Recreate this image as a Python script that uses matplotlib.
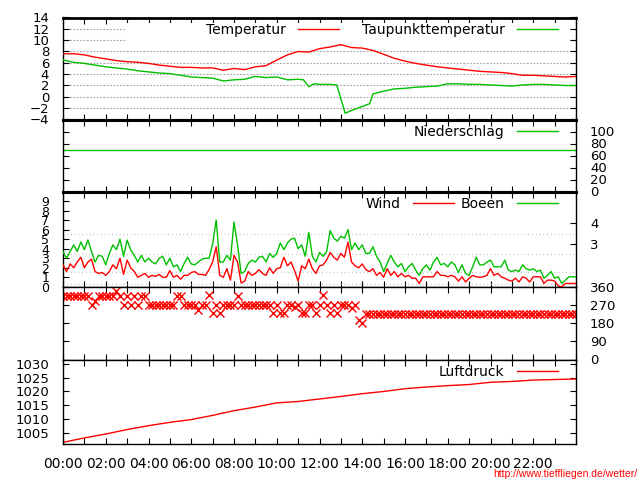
import numpy as np
import matplotlib
matplotlib.use("Agg")
import matplotlib.pyplot as plt
from matplotlib.lines import Line2D
from matplotlib.patches import Rectangle

# ---------------- data ----------------
temp_hours = [0, 0.5, 1, 1.5, 2, 2.5, 3, 3.5, 4, 4.5, 5, 5.5, 6, 6.5, 7, 7.5, 8, 8.5, 9, 9.5,
              10, 10.5, 11, 11.5, 12, 12.5, 13, 13.5, 14, 14.5, 15, 15.5, 16, 16.5, 17, 17.5,
              18, 18.5, 19, 19.5, 20, 20.5, 21, 21.5, 22, 22.5, 23, 23.5, 24]
temperature = [7.6, 7.6, 7.4, 7.0, 6.7, 6.4, 6.2, 6.1, 5.9, 5.6, 5.4, 5.2, 5.2, 5.1, 5.1, 4.7,
               5.0, 4.8, 5.3, 5.5, 6.5, 7.4, 8.0, 7.9, 8.5, 8.8, 9.2, 8.7, 8.6, 8.2, 7.5, 6.8,
               6.3, 5.9, 5.6, 5.3, 5.1, 4.9, 4.7, 4.5, 4.4, 4.3, 4.1, 3.8, 3.8, 3.7, 3.6, 3.5, 3.6]

dew_hours = [0, 0.5, 1, 1.5, 2, 2.5, 3, 3.5, 4, 4.5, 5, 5.5, 6, 6.5, 7, 7.5, 8, 8.5, 9, 9.5,
             10, 10.5, 11, 11.25, 11.5, 11.75, 12, 12.5, 12.8, 12.95, 13.2, 13.5, 14.0, 14.35,
             14.5, 15, 15.5, 16, 16.5, 17, 17.5, 18, 18.5, 19, 19.5, 20, 20.5, 21, 21.5, 22,
             22.5, 23, 23.5, 24]
dewpoint = [6.5, 6.1, 5.9, 5.6, 5.3, 5.1, 4.9, 4.6, 4.4, 4.2, 4.1, 3.8, 3.5, 3.4, 3.3, 2.8,
            3.0, 3.1, 3.6, 3.4, 3.5, 3.0, 3.1, 3.0, 1.8, 2.3, 2.2, 2.2, 2.1, 0.3, -2.9, -2.4,
            -1.7, -1.2, 0.5, 1.0, 1.4, 1.5, 1.7, 1.8, 1.9, 2.3, 2.3, 2.2, 2.2, 2.1, 2.0, 1.9,
            2.1, 2.2, 2.2, 2.1, 2.0, 2.0]

rain_hours = [0, 24]
rain = [70, 70]

wind_step_minutes = 10
wind = [2.3, 1.6, 2.4, 2.0, 2.6, 3.1, 2.0, 2.6, 2.9, 1.6, 1.4, 1.5,
        1.2, 1.6, 2.3, 1.9, 3.0, 1.3, 2.8, 2.0, 1.6, 1.0, 1.2, 1.4,
        1.0, 1.2, 1.1, 1.3, 1.0, 1.0, 1.7, 1.0, 1.2, 0.8, 1.2, 1.2,
        1.5, 1.6, 1.3, 1.3, 1.2, 1.8, 2.6, 4.2, 1.2, 1.0, 1.9, 0.7,
        3.3, 2.6, 0.4, 0.6, 1.6, 1.2, 1.4, 1.8, 1.4, 1.2, 2.0, 1.4,
        1.9, 2.0, 3.1, 2.2, 2.6, 1.7, 0.6, 2.2, 1.9, 2.9, 1.9, 1.4,
        2.2, 2.3, 2.8, 3.6, 3.1, 2.8, 3.5, 3.1, 4.7, 2.6, 2.2, 2.0,
        2.4, 1.8, 1.6, 1.9, 1.2, 1.5, 1.0, 1.9, 1.2, 1.6, 1.05, 1.4,
        1.05, 1.2, 0.9, 0.9, 0.35, 1.05, 1.05, 1.05, 1.05, 1.6, 1.2, 1.2,
        1.05, 1.2, 1.05, 0.6, 1.05, 0.5, 0.9, 1.2, 1.05, 1.0, 1.05, 1.2,
        1.9, 1.2, 1.4, 1.05, 0.9, 0.7, 0.6, 0.9, 0.5, 1.05, 0.9, 0.5,
        1.05, 1.05, 1.05, 0.35, 0.7, 0.7, 0.6, 0.1, 0.0, 0.35, 0.35, 0.35,
        0.35]
gust = [3.7, 3.0, 3.7, 4.4, 3.7, 4.7, 3.9, 4.9, 3.7, 2.6, 3.3, 3.2,
        2.3, 3.5, 4.4, 3.9, 5.0, 3.2, 4.9, 3.9, 3.3, 2.6, 3.3, 2.6,
        3.0, 2.6, 2.4, 3.0, 3.2, 2.3, 3.0, 2.1, 2.3, 1.6, 2.45, 3.1,
        2.4, 2.3, 2.6, 2.9, 3.0, 3.0, 4.5, 7.0, 2.6, 2.6, 3.3, 2.8,
        6.8, 4.4, 1.4, 1.6, 2.45, 2.8, 2.6, 3.1, 3.2, 2.6, 3.5, 3.1,
        3.5, 4.6, 3.9, 4.6, 5.0, 5.1, 4.0, 4.4, 3.2, 5.7, 3.2, 2.6,
        3.6, 3.2, 3.7, 5.9, 5.1, 4.8, 5.3, 5.1, 6.0, 3.9, 4.6, 3.9,
        4.4, 3.5, 3.5, 4.2, 3.2, 2.6, 1.6, 2.45, 3.3, 2.6, 2.1, 2.45,
        1.6, 2.1, 2.45, 1.75, 1.2, 1.9, 2.3, 1.75, 2.6, 3.1, 2.3, 2.45,
        2.1, 2.6, 2.3, 1.5, 2.3, 1.4, 1.2, 2.1, 3.1, 2.3, 2.3, 2.6,
        2.8, 2.1, 2.1, 2.1, 2.8, 1.75, 1.6, 1.75, 1.6, 2.3, 1.9, 1.75,
        1.9, 1.6, 1.75, 0.9, 1.2, 1.6, 0.9, 1.05, 0.35, 0.7, 1.05, 1.05,
        1.05]
direction = [315, 315, 315, 315, 315, 315, 315, 315, 270, 290, 315, 315,
             315, 315, 315, 340, 315, 270, 315, 270, 315, 270, 315, 315,
             270, 270, 270, 270, 270, 270, 270, 270, 315, 315, 270, 270,
             270, 270, 245, 270, 270, 320, 230, 270, 230, 270, 270, 270,
             270, 315, 270, 270, 270, 270, 270, 270, 270, 270, 270, 230,
             270, 230, 230, 270, 270, 260, 270, 230, 230, 270, 270, 230,
             270, 320, 270, 230, 270, 230, 270, 270, 270, 255, 270, 195,
             180, 225, 225, 225, 225, 225, 225, 225, 225, 225, 225, 225,
             225, 225, 225, 225, 225, 225, 225, 225, 225, 225, 225, 225,
             225, 225, 225, 225, 225, 225, 225, 225, 225, 225, 225, 225,
             225, 225, 225, 225, 225, 225, 225, 225, 225, 225, 225, 225,
             225, 225, 225, 225, 225, 225, 225, 225, 225, 225, 225, 225,
             225]

press_hours = list(range(25))
pressure = [1001.7, 1003.3, 1004.7, 1006.3, 1007.7, 1008.9, 1009.9, 1011.4, 1013.1,
            1014.4, 1015.9, 1016.4, 1017.3, 1018.2, 1019.2, 1020.0, 1021.0, 1021.6,
            1022.1, 1022.5, 1023.3, 1023.6, 1024.1, 1024.3, 1024.5]

time_labels = ["00:00", "02:00", "04:00", "06:00", "08:00", "10:00",
               "12:00", "14:00", "16:00", "18:00", "20:00", "22:00"]
bft_bounds = [0.3, 1.6, 3.4, 5.5, 8.0]
bft_label_pos = [4.45, 6.7]
bft_labels = ["3", "4"]

RED = "#ff0000"
GREEN = "#00c000"
GRID = "#a0a0a0"

# ---------------- figure ----------------
W, H = 640, 480
fig = plt.figure(figsize=(6.4, 4.8), dpi=100)
plt.rcParams['font.family'] = ['DejaVu Sans']

YLAB = 9.5
X0, X1 = 63, 576
def add_axes(top, bottom):
    return fig.add_axes([X0 / W, 1 - bottom / H, (X1 - X0) / W, (bottom - top) / H])

ax1 = add_axes(17.5, 119.5)
ax2 = add_axes(119.5, 191.5)
ax3 = add_axes(191.5, 286.8)
ax4 = add_axes(286.8, 359.5)
ax5 = add_axes(359.5, 444.3)
axes = [ax1, ax2, ax3, ax4, ax5]

for ax in axes:
    ax.set_xlim(0, 24)
    ax.set_xticks(range(25))
    ax.tick_params(axis='both', direction='in', length=4, width=0.8,
                   top=True, bottom=True, left=True, right=True,
                   labelbottom=False, labelsize=YLAB, pad=10)
    for s in ax.spines.values():
        s.set_linewidth(1.0)

ax1.spines['top'].set_linewidth(2.0)
ax1.spines['bottom'].set_linewidth(2.2)
ax2.spines['top'].set_linewidth(2.2)
ax2.spines['bottom'].set_linewidth(2.2)
ax3.spines['top'].set_linewidth(2.2)

def legend(ax, handles, labels, top_px, colsp):
    lg = ax.legend(handles, labels, ncol=len(labels), markerfirst=False,
                   loc='upper right', bbox_to_anchor=(558 / W, 1 - top_px / H),
                   bbox_transform=fig.transFigure, frameon=False, borderpad=0,
                   borderaxespad=0, handlelength=2.95, handletextpad=0.9,
                   columnspacing=colsp, fontsize=10)
    return lg

# --- temperature ---
ax1.plot(temp_hours, temperature, color=RED, lw=1.0, zorder=3)
ax1.plot(dew_hours, dewpoint, color=GREEN, lw=1.0, zorder=3)
ax1.set_ylim(-4, 14)
ax1.set_yticks(range(-4, 15, 2))
ax1.tick_params(axis='y', labelleft=True, labelright=False)
ax1.yaxis.grid(True, linestyle=(0, (1.5, 1.5)), color=GRID, lw=0.8)
ax1.add_patch(Rectangle((62 / 513, 0.70), 1 - 62 / 513 - 7 / 513, 0.245,
                        transform=ax1.transAxes, facecolor='white',
                        edgecolor='none', zorder=1.6))
legend(ax1, [Line2D([], [], color=RED, lw=1.0), Line2D([], [], color=GREEN, lw=1.0)],
       ["Temperatur", "Taupunkttemperatur"], 23, 1.6)

# --- precipitation ---
ax2.plot(rain_hours, rain, color=GREEN, lw=1.0)
ax2.set_ylim(0, 120)
ax2.set_yticks(range(0, 101, 20))
ax2.tick_params(axis='y', labelleft=False, labelright=True)
legend(ax2, [Line2D([], [], color=GREEN, lw=1.0)], ["Niederschlag"], 125, 1.0)

# --- wind ---
hours_10min = np.arange(len(wind)) * wind_step_minutes / 60.0
ax3.plot(hours_10min, wind, color=RED, lw=1.0, zorder=3)
ax3.plot(hours_10min, gust, color=GREEN, lw=1.0, zorder=3)
ax3.set_ylim(0, 10)
ax3.set_yticks(range(0, 10))
ax3.set_yticks(bft_bounds, minor=True)
ax3.tick_params(axis='y', which='minor', length=0)
ax3.tick_params(axis='y', right=False, labelleft=True, labelsize=9)
ax3.yaxis.grid(True, which='minor', linestyle=(0, (0.5, 2.5)), color=GRID, lw=0.9)
ax3b = ax3.twinx()
ax3b.set_ylim(0, 10)
ax3b.set_yticks(bft_label_pos)
ax3b.set_yticklabels(bft_labels)
ax3b.tick_params(axis='y', direction='in', length=4, width=0.8, labelsize=YLAB, pad=10)
for s in ax3b.spines.values():
    s.set_visible(False)
legend(ax3, [Line2D([], [], color=RED, lw=1.0), Line2D([], [], color=GREEN, lw=1.0)],
       ["Wind", "Boeen"], 197, 0.5)

# --- wind direction ---
ax4.plot(hours_10min, direction, linestyle='none', marker='x', color=RED,
         markersize=5.5, markeredgewidth=1.0, clip_on=True)
ax4.set_ylim(0, 360)
ax4.set_yticks(range(0, 361, 90))
ax4.tick_params(axis='y', labelleft=False, labelright=True)

# --- pressure ---
ax5.plot(press_hours, pressure, color=RED, lw=1.0)
ax5.set_ylim(1001.0, 1031.5)
ax5.set_yticks(range(1005, 1031, 5))
ax5.tick_params(axis='y', labelleft=True, labelright=False)
ax5.set_xticks(range(25))
ax5.set_xticklabels([time_labels[i // 2] if (i % 2 == 0 and i < 24) else "" for i in range(25)])
ax5.tick_params(axis='x', labelbottom=True, pad=9, labelsize=10)
legend(ax5, [Line2D([], [], color=RED, lw=1.0)], ["Luftdruck"], 365, 1.0)

fig.text(637 / W, 1 - 474 / H, "http://www.tieffliegen.de/wetter/", color=RED,
         fontsize=7.5, ha='right', va='center',
         family=['Liberation Sans', 'DejaVu Sans'])

fig.savefig("out.png", dpi=100)
